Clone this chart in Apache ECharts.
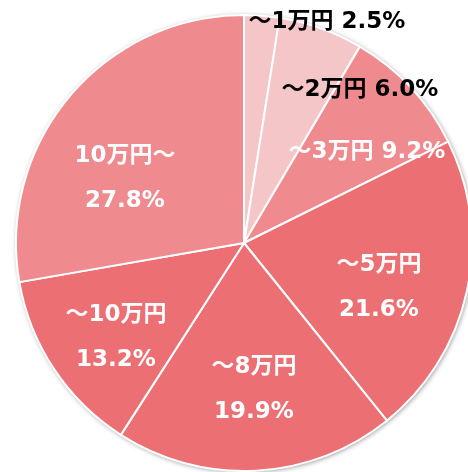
<!DOCTYPE html>
<html>
<head>
<meta charset="utf-8">
<script src="https://cdn.jsdelivr.net/npm/echarts@6/dist/echarts.min.js"></script>
<style>
html,body{margin:0;padding:0;background:#fff;}
#chart{width:468px;height:472px;}
</style>
</head>
<body>
<div id="chart"></div>
<script>
// Spending brackets and their shares (%)
const categories = ['～1万円', '～2万円', '～3万円', '～5万円', '～8万円', '～10万円', '10万円～'];
const shares = [2.5, 6.0, 9.2, 21.6, 19.9, 13.2, 27.8];

// Slice fills: light, medium, dark pinks
const sliceColors = ['#F5C6C8', '#F5C6C8', '#EF8B8E', '#EC6F74', '#EC6F74', '#EC6F74', '#EF8B8E'];
// Whether the label sits on one line and its colour
const labelInline = [true, true, true, false, false, false, false];
const labelColors = ['#000', '#000', '#fff', '#fff', '#fff', '#fff', '#fff'];
// Label anchor points in pixels
const labelPos = [[327, 22], [360, 90], [367, 152], [379, 288], [254, 390], [116, 338], [125, 179]];

const chart = echarts.init(document.getElementById('chart'), null, {renderer: 'canvas'});
const FONT = 'DejaVu Sans, Noto Sans CJK JP, sans-serif';

const data = categories.map((c, i) => ({
  name: c,
  value: shares[i],
  itemStyle: {color: sliceColors[i]},
  label: {
    color: labelColors[i],
    formatter: function (p) {
      const pct = p.value.toFixed(1) + '%';
      return labelInline[i] ? p.name + ' ' + pct : p.name + '\n' + pct;
    }
  }
}));

chart.setOption({
  animation: false,
  series: [
    {
      type: 'pie',
      silent: true,
      center: [244, 243],
      radius: 228,
      z: 1,
      data: [{value: 1, itemStyle: {color: '#fff', shadowBlur: 5, shadowColor: 'rgba(0,0,0,0.45)', shadowOffsetX: 1, shadowOffsetY: 1}}],
      label: {show: false},
      labelLine: {show: false}
    },
    {
      type: 'pie',
      center: [244, 243],
      radius: 228,
      startAngle: 90,
      clockwise: true,
      z: 2,
      data: data,
      itemStyle: {borderColor: '#fff', borderWidth: 2},
      label: {
        show: true,
        position: 'inside',
        fontFamily: FONT,
        fontWeight: 'bold',
        fontSize: 23,
        lineHeight: 45,
        align: 'center',
        verticalAlign: 'middle'
      },
      labelLine: {show: false},
      labelLayout: function (p) {
        const pos = labelPos[p.dataIndex];
        return {x: pos[0], y: pos[1], align: 'center', verticalAlign: 'middle'};
      }
    }
  ]
});
</script>
</body>
</html>
